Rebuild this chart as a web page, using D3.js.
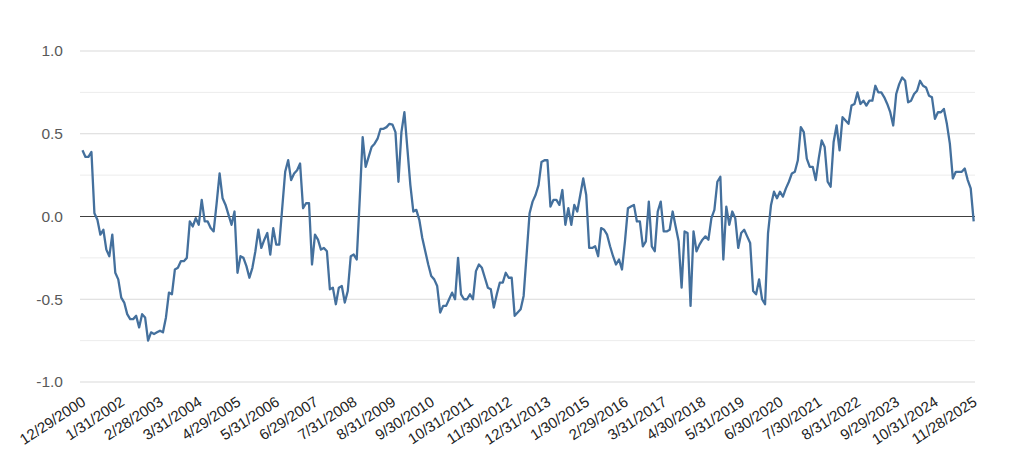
<!DOCTYPE html>
<html>
<head>
<meta charset="utf-8">
<script src="https://cdn.jsdelivr.net/npm/d3@7"></script>
<style>
  html, body { margin: 0; padding: 0; background: #fff; }
  svg { display: block; }
</style>
</head>
<body>
<svg id="chart" width="1024" height="455"></svg>
<script>
// Monthly series, 12/2000 .. 11/2025 (300 month-end points)
const values = [
  0.40, 0.36, 0.36, 0.39, 0.02, -0.02, -0.11, -0.08, -0.20, -0.24,
  -0.11, -0.34, -0.38, -0.49, -0.52, -0.59, -0.62, -0.62, -0.60, -0.67,
  -0.59, -0.61, -0.75, -0.70, -0.71, -0.70, -0.69, -0.70, -0.61, -0.46,
  -0.47, -0.32, -0.31, -0.27, -0.27, -0.25, -0.03, -0.06, -0.01, -0.05,
  0.10, -0.03, -0.03, -0.07, -0.09, 0.08, 0.26, 0.11, 0.07, 0.01,
  -0.05, 0.03, -0.34, -0.24, -0.25, -0.30, -0.37, -0.31, -0.21, -0.08,
  -0.19, -0.14, -0.10, -0.23, -0.07, -0.17, -0.17, 0.05, 0.27, 0.34,
  0.22, 0.26, 0.28, 0.32, 0.05, 0.08, 0.08, -0.29, -0.11, -0.14,
  -0.20, -0.19, -0.21, -0.44, -0.43, -0.53, -0.43, -0.42, -0.52, -0.45,
  -0.24, -0.23, -0.26, 0.10, 0.48, 0.30, 0.36, 0.42, 0.44, 0.47,
  0.53, 0.53, 0.54, 0.56, 0.555, 0.51, 0.21, 0.51, 0.63, 0.41,
  0.19, 0.03, 0.04, -0.02, -0.13, -0.21, -0.29, -0.36, -0.38, -0.42,
  -0.58, -0.54, -0.54, -0.50, -0.46, -0.50, -0.25, -0.47, -0.50, -0.50,
  -0.47, -0.50, -0.33, -0.29, -0.31, -0.37, -0.43, -0.44, -0.55, -0.47,
  -0.40, -0.40, -0.34, -0.37, -0.37, -0.60, -0.58, -0.56, -0.48, -0.23,
  0.02, 0.09, 0.13, 0.19, 0.33, 0.34, 0.34, 0.06, 0.10, 0.10,
  0.07, 0.16, -0.05, 0.05, -0.05, 0.07, 0.03, 0.13, 0.23, 0.13,
  -0.19, -0.19, -0.18, -0.24, -0.07, -0.08, -0.11, -0.18, -0.24, -0.29,
  -0.26, -0.32, -0.15, 0.05, 0.06, 0.07, -0.03, -0.03, -0.18, -0.15,
  0.09, -0.18, -0.21, 0.03, 0.09, -0.09, -0.09, -0.08, 0.03, -0.06,
  -0.15, -0.43, -0.09, -0.10, -0.54, -0.09, -0.21, -0.17, -0.14, -0.12,
  -0.14, -0.01, 0.04, 0.21, 0.24, -0.26, 0.06, -0.05, 0.03, -0.01,
  -0.19, -0.10, -0.08, -0.12, -0.16, -0.45, -0.47, -0.38, -0.50, -0.53,
  -0.10, 0.07, 0.15, 0.11, 0.15, 0.12, 0.17, 0.21, 0.26, 0.27,
  0.34, 0.54, 0.51, 0.35, 0.30, 0.30, 0.22, 0.35, 0.46, 0.42,
  0.21, 0.18, 0.45, 0.55, 0.40, 0.60, 0.58, 0.56, 0.67, 0.68,
  0.75, 0.68, 0.70, 0.67, 0.70, 0.70, 0.79, 0.75, 0.75, 0.72,
  0.68, 0.63, 0.55, 0.74, 0.80, 0.84, 0.82, 0.69, 0.70, 0.74,
  0.76, 0.82, 0.79, 0.78, 0.73, 0.72, 0.59, 0.63, 0.63, 0.65,
  0.56, 0.44, 0.23, 0.27, 0.27, 0.27, 0.29, 0.22, 0.17, -0.03
];

// Category tick labels, every 13th month
const tickLabels = [
  "12/29/2000", "1/31/2002", "2/28/2003", "3/31/2004", "4/29/2005", "5/31/2006",
  "6/29/2007", "7/31/2008", "8/31/2009", "9/30/2010", "10/31/2011", "11/30/2012",
  "12/31/2013", "1/30/2015", "2/29/2016", "3/31/2017", "4/30/2018", "5/31/2019",
  "6/30/2020", "7/30/2021", "8/31/2022", "9/29/2023", "10/31/2024", "11/28/2025"
];
const tickStep = 13;
const yTicks = [-1.0, -0.5, 0.0, 0.5, 1.0];
const yMinorTicks = [-0.75, -0.25, 0.25, 0.75];

const svg = d3.select("#chart");
const gridLeft = 80, gridRight = 975;

const x = d3.scaleLinear().domain([0, values.length - 1]).range([82.5, 973.7]);
const y = d3.scaleLinear().domain([-1, 1]).range([382, 51]);

// minor gridlines
svg.append("g").selectAll("line").data(yMinorTicks).join("line")
  .attr("x1", gridLeft).attr("x2", gridRight)
  .attr("y1", d => y(d)).attr("y2", d => y(d))
  .attr("stroke", "#ececec").attr("stroke-width", 1);

// major gridlines
svg.append("g").selectAll("line").data(yTicks.filter(d => d !== 0)).join("line")
  .attr("x1", gridLeft).attr("x2", gridRight)
  .attr("y1", d => y(d)).attr("y2", d => y(d))
  .attr("stroke", "#d9d9d9").attr("stroke-width", 1);

// y axis labels (ASCII hyphen for negatives)
const fmt = d3.format(".1f");
const yAxis = d3.axisLeft(y).tickValues(yTicks)
  .tickFormat(d => fmt(d).replace("\u2212", "-")).tickSize(0).tickPadding(0);
const yg = svg.append("g").attr("transform", "translate(63,0)").call(yAxis);
yg.select(".domain").remove();
yg.selectAll("text")
  .attr("font-family", "Liberation Sans, Arial, sans-serif")
  .attr("font-size", 15.5).attr("fill", "#595959");

// zero line
svg.append("line")
  .attr("x1", gridLeft).attr("x2", gridRight)
  .attr("y1", y(0)).attr("y2", y(0))
  .attr("stroke", "#404040").attr("stroke-width", 1.2);

// series line
const line = d3.line().x((d, i) => x(i)).y(d => y(d));
svg.append("path").datum(values)
  .attr("d", line)
  .attr("fill", "none")
  .attr("stroke", "#44709d")
  .attr("stroke-width", 2.3)
  .attr("stroke-linejoin", "round");

// x labels
const xTickIdx = tickLabels.map((_, i) => i * tickStep);
const xAxis = d3.axisBottom(x).tickValues(xTickIdx)
  .tickFormat((d, i) => tickLabels[i]).tickSize(0).tickPadding(0);
const xg = svg.append("g").attr("transform", "translate(0,390)").call(xAxis);
xg.select(".domain").remove();
xg.selectAll("text")
  .attr("font-family", "Liberation Sans, Arial, sans-serif")
  .attr("font-size", 15).attr("fill", "#222")
  .attr("text-anchor", "end")
  .attr("dy", "0.35em")
  .attr("transform", "translate(1,10) rotate(-33)");
</script>
</body>
</html>
